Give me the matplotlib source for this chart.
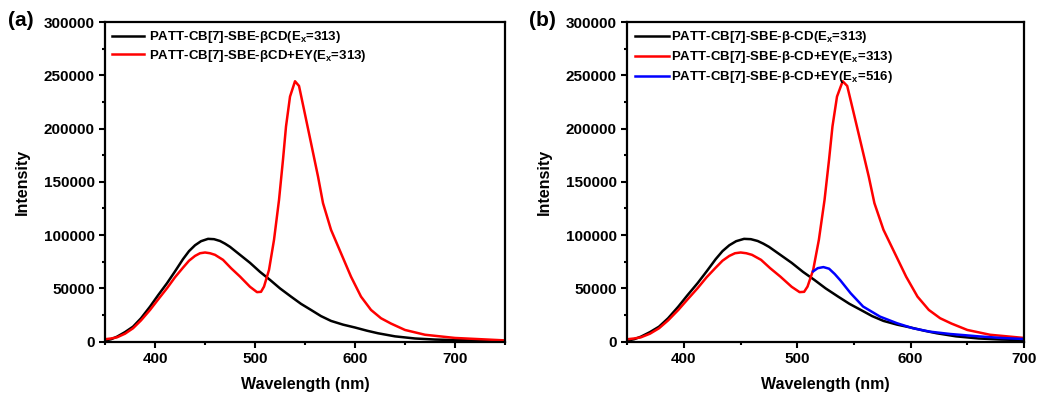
import numpy as np
import matplotlib
matplotlib.use("Agg")
import matplotlib.pyplot as plt
from matplotlib.ticker import MultipleLocator

plt.rcParams['font.family'] = ['Liberation Sans', 'DejaVu Sans']
plt.rcParams['font.weight'] = 'bold'
plt.rcParams['mathtext.fontset'] = 'custom'
plt.rcParams['mathtext.bf'] = 'Liberation Sans:bold'
plt.rcParams['mathtext.rm'] = 'Liberation Sans:bold'
plt.rcParams['mathtext.default'] = 'bf'

# Emission spectra
wl_black = [350, 356, 362, 370, 378, 386, 395, 403, 412, 420, 428, 434, 440, 446, 453, 459,
            465, 470, 475, 485, 495, 505, 515, 525, 536, 546, 556, 566, 576, 588, 600,
            612, 623, 640, 660, 680, 700, 750]
int_black = [1000, 2300, 4700, 9000, 14100, 22000, 32900, 43500, 54900, 66000, 77500, 85000,
             90500, 94300, 96500, 96200, 94500, 92000, 89000, 81500, 74000, 65500, 58000,
             50000, 42300, 35500, 29800, 24000, 19500, 16000, 13300, 10300, 7900, 5000,
             3000, 2000, 1500, 600]

wl_red = [350, 356, 362, 370, 378, 386, 395, 403, 412, 420, 428, 434, 440, 445, 450, 455,
          460, 468, 476, 485, 495, 502, 506, 509, 514, 519, 524, 528, 531, 535, 540, 544,
          549, 556, 563, 568, 576, 586, 596, 606, 616, 626, 636, 650, 670, 700, 750]
int_red = [2300, 3000, 4100, 7500, 12600, 20000, 29800, 39500, 50200, 60500, 69500, 76000,
           80500, 83000, 83700, 83000, 81500, 76800, 69000, 61100, 51500, 46500, 46800,
           51700, 67400, 95600, 133000, 171000, 202000, 230000, 244400, 240000, 217800,
           186500, 155000, 130000, 105000, 83000, 61000, 42300, 29800, 22000, 17000, 11000,
           6500, 3500, 1200]

wl_blue = [514, 518, 523, 528, 533, 538, 547, 558, 573, 588, 602, 617, 635, 660, 680, 700]
int_blue = [66000, 69000, 70000, 68500, 63500, 57500, 45500, 33000, 23500, 17300, 12600,
            9400, 7200, 5000, 3500, 2500]

labels_a = ['PATT-CB[7]-SBE-βCD(E$_x$=313)', 'PATT-CB[7]-SBE-βCD+EY(E$_x$=313)']
labels_b = ['PATT-CB[7]-SBE-β-CD(E$_x$=313)', 'PATT-CB[7]-SBE-β-CD+EY(E$_x$=313)',
            'PATT-CB[7]-SBE-β-CD+EY(E$_x$=516)']

fig = plt.figure(figsize=(10.41, 3.98), dpi=100)
ax1 = fig.add_axes([0.1009, 0.1415, 0.3842, 0.8032])
ax2 = fig.add_axes([0.6026, 0.1415, 0.3811, 0.8032])


def style(ax, xmax):
    ax.set_xlim(350, xmax)
    ax.set_ylim(0, 300000)
    ax.xaxis.set_major_locator(MultipleLocator(100))
    ax.xaxis.set_minor_locator(MultipleLocator(50))
    ax.yaxis.set_major_locator(MultipleLocator(50000))
    ax.yaxis.set_minor_locator(MultipleLocator(25000))
    ax.tick_params(which='both', direction='out', width=1.5, labelsize=11)
    ax.tick_params(which='major', length=4)
    ax.tick_params(which='minor', length=2.5)
    for s in ax.spines.values():
        s.set_linewidth(1.6)
    for lab in ax.get_xticklabels() + ax.get_yticklabels():
        lab.set_fontweight('bold')
    ax.set_xlabel('Wavelength (nm)', fontsize=11.5, fontweight='bold', labelpad=8)
    ax.set_ylabel('Intensity', fontsize=11.5, fontweight='bold', labelpad=10)


# (a)
ax1.plot(wl_black, int_black, color='black', lw=1.8, label=labels_a[0])
ax1.plot(wl_red, int_red, color='red', lw=1.8, label=labels_a[1])
style(ax1, 750)
ax1.set_xticks([400, 500, 600, 700])
ax1.legend(loc='upper left', frameon=False, fontsize=9.5, handlelength=2.4,
           handletextpad=0.4, labelspacing=0.2, borderaxespad=0.15)
fig.text(0.008, 0.935, '(a)', fontsize=15, fontweight='bold')

# (b)
wlb = np.array(wl_black)
wlr = np.array(wl_red)
ax2.plot(wlb[wlb <= 700], np.array(int_black)[wlb <= 700], color='black', lw=1.8, label=labels_b[0])
ax2.plot(wlr[wlr <= 700], np.array(int_red)[wlr <= 700], color='red', lw=1.8, label=labels_b[1])
ax2.plot(wl_blue, int_blue, color='blue', lw=1.8, label=labels_b[2])
style(ax2, 700)
ax2.legend(loc='upper left', frameon=False, fontsize=9.5, handlelength=2.6,
           handletextpad=0.15, labelspacing=0.3, borderaxespad=0.15)
fig.text(0.508, 0.935, '(b)', fontsize=15, fontweight='bold')

fig.savefig('out.png', dpi=100)
